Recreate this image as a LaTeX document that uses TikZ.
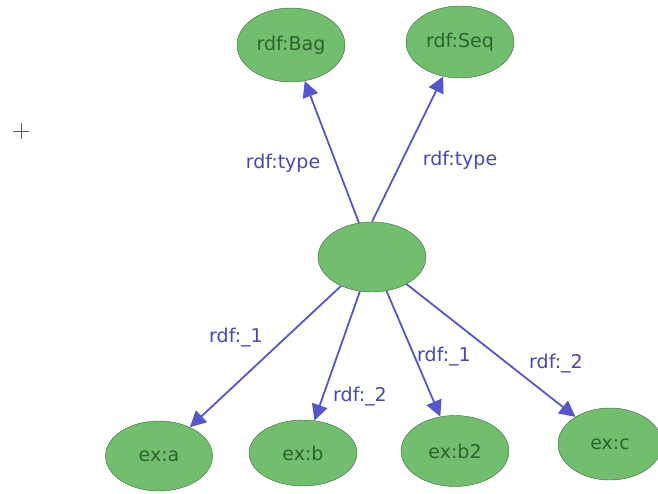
\documentclass[tikz,border=0pt]{standalone}
\usepackage{fontspec}
\setmainfont{DejaVu Sans}
\usetikzlibrary{shapes.geometric, arrows.meta, positioning}
\definecolor{resfill}{RGB}{114,190,111}
\definecolor{resdraw}{RGB}{60,100,60}
\definecolor{restext}{RGB}{45,100,45}
\definecolor{propblue}{RGB}{85,85,205}
\tikzset{
	resource/.style={ellipse, draw=resdraw, fill=resfill, text=restext, inner sep=0pt, font=\fontsize{19}{22}\selectfont},
	prop/.style={->, draw=propblue, line width=1.8pt, >={Triangle[length=16pt,width=16pt]}},
	proplabel/.style={text=propblue!85!black, font=\fontsize{19}{22}\selectfont}
}
\begin{document}
\begin{tikzpicture}[x=1pt, y=-1pt]
		\useasboundingbox (0,0) rectangle (658,493);
		
		\node[resource, minimum width=108pt, minimum height=74pt] (bag) at (291,45) {rdf:Bag};
		\node[resource, minimum width=108pt, minimum height=72pt] (seq) at (460,42) {rdf:Seq};
		
		\node[resource, minimum width=108pt, minimum height=70pt] (blank) at (372,257) {};
		
		\node[resource, minimum width=107pt, minimum height=70pt] (exa) at (159,456) {ex:a};
		\node[resource, minimum width=108pt, minimum height=66pt] (exb) at (303,453) {ex:b};
		\node[resource, minimum width=108pt, minimum height=71pt] (exbb) at (455,451) {ex:b2};
		\node[resource, minimum width=104pt, minimum height=72pt] (exc) at (610,444) {ex:c};
		
		\draw[prop] (blank)       -- (bag);
		\draw[prop] (blank.north) -- (seq);
		\draw[prop] (blank) -- (exa);
		\draw[prop] (blank) -- (exb);
		\draw[prop] (blank) -- (exbb);
		\draw[prop] (blank) -- (exc);
		
		\node[proplabel] (typebag) at (283,163) {rdf:type};
		\node[proplabel] (typeseq) at (460,160) {rdf:type};
		\node[proplabel] (firsta)  at (236,338) {rdf:\_1};
		\node[proplabel] (secondb) at (360,397) {rdf:\_2};
		\node[proplabel] (firstb)  at (444,357) {rdf:\_1};
		\node[proplabel] (secondc) at (556,364) {rdf:\_2};
		
		% cursor mark
		\draw[gray!70!black, line width=0.8pt] (13,131) -- (29,131);
		\draw[gray!70!black, line width=0.8pt] (21,123) -- (21,139);
	\end{tikzpicture}
\end{document}
